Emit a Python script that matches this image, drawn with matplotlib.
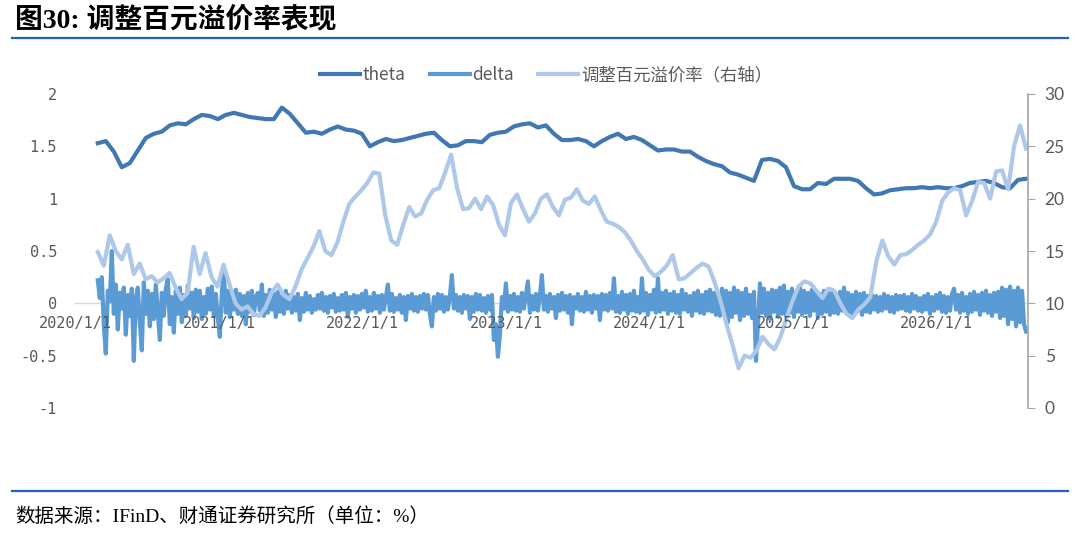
import numpy as np
import pandas as pd
import matplotlib
matplotlib.use('Agg')
import matplotlib.pyplot as plt
from matplotlib.lines import Line2D

# series span (first / last trading day shown)
start_date = '2020-02-28'
end_date = '2026-08-16'

# theta (left axis)
theta = [1.53, 1.55, 1.45, 1.30, 1.34, 1.46, 1.58, 1.62, 1.64, 1.70,
         1.72, 1.71, 1.76, 1.80, 1.79, 1.76, 1.80, 1.82, 1.80, 1.78,
         1.77, 1.76, 1.76, 1.87, 1.81, 1.72, 1.63, 1.64, 1.62, 1.66,
         1.69, 1.66, 1.65, 1.62, 1.50, 1.54, 1.57, 1.55, 1.56, 1.58,
         1.60, 1.62, 1.63, 1.56, 1.50, 1.51, 1.55, 1.55, 1.54, 1.61,
         1.63, 1.64, 1.69, 1.71, 1.72, 1.68, 1.70, 1.62, 1.56, 1.56,
         1.57, 1.55, 1.50, 1.55, 1.59, 1.62, 1.57, 1.59, 1.56, 1.51,
         1.46, 1.47, 1.47, 1.45, 1.45, 1.40, 1.36, 1.33, 1.31, 1.25,
         1.23, 1.20, 1.17, 1.37, 1.38, 1.36, 1.30, 1.12, 1.09, 1.09,
         1.15, 1.14, 1.19, 1.19, 1.19, 1.17, 1.10, 1.04, 1.05, 1.08,
         1.09, 1.10, 1.10, 1.11, 1.10, 1.11, 1.10, 1.10, 1.12, 1.15,
         1.16, 1.17, 1.15, 1.11, 1.10, 1.18, 1.19]

# delta (left axis)
delta = [0.22, 0.05, 0.25, -0.20, -0.48, 0.12, 0.02, 0.50, -0.10, 0.18,
         -0.25, 0.10, -0.05, 0.15, -0.30, 0.08, -0.12, 0.14, -0.55, 0.05,
         0.15, -0.18, -0.45, 0.20, -0.10, 0.12, -0.22, 0.09, -0.15, 0.18,
         -0.08, -0.35, 0.10, -0.12, 0.14, 0.23, -0.20, 0.06, -0.28, 0.12,
         -0.10, 0.15, -0.18, 0.08, -0.12, 0.17, -0.05, 0.10, -0.14, 0.13,
         -0.08, 0.12, -0.15, 0.06, -0.10, 0.14, -0.06, 0.16, -0.12, 0.09,
         -0.14, -0.32, 0.10, 0.31, -0.09, 0.12, -0.13, 0.08, -0.06, 0.13,
         -0.10, 0.09, -0.12, 0.07, -0.20, 0.10, -0.08, 0.12, -0.11, 0.06,
         0.10, -0.07, 0.18, -0.12, 0.08, -0.09, 0.13, -0.06, 0.09, -0.13,
         0.11, -0.08, 0.07, -0.10, 0.12, -0.05, 0.08, -0.09, 0.06, -0.07,
         0.09, -0.16, 0.05, -0.08, 0.10, -0.06, 0.07, -0.09, 0.04, -0.06,
         0.08, -0.05, 0.10, -0.07, 0.06, -0.09, 0.07, -0.04, 0.09, -0.08,
         0.05, -0.07, 0.08, -0.06, 0.10, -0.13, 0.06, -0.05, 0.08, -0.09,
         0.07, -0.06, 0.09, -0.04, 0.12, -0.08, 0.06, -0.07, 0.10, -0.05,
         0.07, -0.09, 0.08, -0.06, 0.06, 0.18, -0.07, 0.09, -0.08, 0.05,
         -0.06, 0.08, -0.09, 0.06, -0.16, 0.07, -0.05, 0.09, -0.07, 0.06,
         -0.08, 0.07, -0.05, 0.09, -0.06, 0.08, -0.10, -0.22, 0.06, -0.07,
         0.09, -0.05, 0.08, -0.08, 0.06, -0.06, 0.07, 0.27, -0.05, 0.08,
         -0.07, 0.06, -0.09, 0.08, -0.05, 0.07, -0.15, 0.06, -0.08, 0.09,
         -0.06, 0.08, -0.07, 0.05, -0.09, 0.07, -0.06, 0.08, -0.35, -0.20,
         -0.51, -0.30, 0.06, -0.05, 0.19, -0.08, 0.07, -0.06, 0.09, -0.07,
         0.06, -0.08, 0.10, -0.05, 0.08, 0.21, -0.09, 0.07, -0.06, 0.09,
         -0.07, 0.08, 0.27, -0.06, 0.07, -0.08, 0.09, -0.05, 0.06, -0.14,
         0.08, -0.07, 0.10, -0.06, 0.07, -0.09, 0.08, -0.20, 0.06, -0.05,
         0.09, -0.07, 0.06, -0.08, 0.11, -0.06, 0.07, -0.09, 0.08, -0.05,
         0.07, -0.16, 0.09, -0.06, 0.08, -0.07, 0.10, -0.05, 0.24, -0.08,
         0.07, -0.09, 0.11, -0.06, 0.08, -0.10, 0.09, -0.07, 0.12, -0.08,
         0.06, -0.09, 0.24, -0.07, 0.10, -0.11, 0.08, -0.06, 0.13, -0.09,
         0.24, -0.08, 0.10, -0.06, 0.12, -0.10, 0.09, -0.07, 0.11, -0.09,
         0.08, -0.10, 0.13, -0.06, 0.09, -0.08, 0.07, -0.12, 0.10, -0.07,
         0.12, -0.09, 0.08, -0.10, 0.11, -0.07, 0.13, -0.08, 0.10, -0.11,
         0.09, -0.12, 0.14, -0.10, 0.12, -0.18, 0.10, -0.13, 0.15, -0.09,
         0.12, -0.16, 0.10, -0.12, 0.14, -0.10, 0.08, -0.14, 0.11, -0.55,
         -0.20, 0.19, -0.09, 0.14, -0.12, 0.10, -0.15, 0.13, -0.08, 0.12,
         -0.13, 0.15, -0.10, 0.17, -0.12, 0.11, -0.09, 0.14, -0.13, 0.10,
         -0.08, 0.16, -0.11, 0.12, -0.09, 0.10, -0.12, 0.13, -0.07, 0.11,
         -0.14, 0.09, -0.10, 0.12, -0.08, 0.10, -0.11, 0.13, -0.09, 0.08,
         -0.10, 0.11, -0.07, 0.15, -0.09, 0.10, -0.12, 0.08, -0.10, 0.11,
         -0.07, 0.09, -0.11, 0.10, -0.08, 0.07, -0.09, 0.08, -0.06, 0.07,
         -0.08, 0.06, -0.07, 0.09, -0.05, 0.07, -0.08, 0.06, -0.09, 0.08,
         -0.06, 0.07, -0.05, 0.08, -0.07, 0.06, -0.08, 0.09, -0.05, 0.07,
         -0.07, 0.05, -0.08, 0.07, -0.06, 0.09, -0.10, 0.06, -0.07, 0.08,
         -0.05, 0.10, -0.08, 0.07, -0.09, 0.06, -0.07, 0.09, 0.14, -0.06,
         0.08, -0.09, 0.10, -0.07, 0.06, -0.10, 0.09, -0.08, 0.11, -0.06,
         0.08, -0.11, 0.10, -0.07, 0.12, -0.09, 0.08, -0.12, 0.10, -0.08,
         0.11, -0.14, 0.15, -0.12, 0.13, -0.20, 0.16, -0.15, 0.12, -0.22,
         0.15, -0.18, 0.12, -0.20, -0.27]

# adjusted premium per 100 yuan, % (right axis)
premium = [14.9, 13.6, 16.5, 15.0, 14.2, 15.6, 12.8, 13.8, 12.3, 12.6,
           12.0, 12.4, 12.9, 11.5, 10.4, 11.0, 15.4, 12.8, 14.8, 12.5,
           11.6, 13.7, 11.8, 10.0, 9.4, 9.7, 9.0, 8.8, 9.6, 11.0,
           11.8, 10.8, 10.4, 11.6, 13.2, 14.3, 15.4, 16.9, 15.0, 14.6,
           15.8, 17.8, 19.5, 20.2, 20.8, 21.5, 22.5, 22.4, 18.4, 16.0,
           15.6, 17.5, 19.2, 18.3, 18.6, 19.9, 20.8, 21.0, 22.5, 24.2,
           21.0, 19.0, 19.1, 20.0, 19.0, 20.2, 19.4, 17.5, 16.5, 19.6,
           20.4, 19.0, 17.8, 18.6, 20.0, 20.4, 19.2, 18.4, 19.9, 20.1,
           20.9, 19.8, 19.5, 20.2, 18.9, 17.8, 17.6, 17.3, 16.8, 16.0,
           15.0, 14.2, 13.2, 12.6, 13.0, 13.6, 14.6, 12.3, 12.4, 12.9,
           13.4, 13.8, 13.5, 12.0, 10.2, 8.0, 6.0, 3.8, 5.0, 4.8,
           5.5, 6.8, 6.1, 5.6, 6.8, 8.6, 10.2, 11.6, 12.1, 11.9,
           11.2, 10.5, 11.4, 11.2, 10.0, 9.0, 8.6, 9.4, 9.9, 10.6,
           14.0, 16.0, 14.5, 13.7, 14.6, 14.7, 15.1, 15.6, 16.0, 16.6,
           17.8, 19.8, 20.6, 21.0, 20.8, 18.4, 19.8, 21.6, 21.5, 20.0,
           22.6, 22.7, 20.9, 25.0, 27.0, 24.8]

tick_dates = ['2020-01-01', '2021-01-01', '2022-01-01', '2023-01-01',
              '2024-01-01', '2025-01-01', '2026-01-01']
tick_labels = ['2020/1/1', '2021/1/1', '2022/1/1', '2023/1/1',
               '2024/1/1', '2025/1/1', '2026/1/1']
left_ticks = [2, 1.5, 1, 0.5, 0, -0.5, -1]
right_ticks = [0, 5, 10, 15, 20, 25, 30]

theta_x = pd.date_range(start_date, end_date, periods=len(theta))
delta_x = pd.date_range(start_date, end_date, periods=len(delta))
premium_x = pd.date_range(start_date, end_date, periods=len(premium))

cjk = ['Noto Sans CJK SC', 'DejaVu Sans']
mono = ['DejaVu Sans Mono', 'Noto Sans CJK SC']
grey = '#595959'

fig = plt.figure(figsize=(10.8, 5.37), dpi=100)
ax = fig.add_axes([75 / 1080, 1 - 408 / 537, 953 / 1080, 314 / 537])
ax2 = ax.twinx()

ax.axhline(0, color='#d9d9d9', lw=1, zorder=1)
l1, = ax.plot(theta_x, theta, color='#4178B2', lw=3.0, label='theta', zorder=3)
l2, = ax.plot(delta_x, delta, color='#5B9BD5', lw=3.0, label='delta', zorder=2)
l3, = ax2.plot(premium_x, premium, color='#ADC8E8', lw=3.0,
               label='调整百元溢价率（右轴）')

ax.set_xlim(pd.Timestamp('2020-01-01'), pd.Timestamp('2026-08-21'))
ax.set_ylim(-1, 2)
ax2.set_ylim(0, 30)

ax.set_yticks(left_ticks)
ax.set_yticklabels(['%g' % v for v in left_ticks])
ax.tick_params(axis='y', length=0, pad=13, labelcolor=grey, labelsize=11)
for t in ax.get_yticklabels():
    t.set_fontfamily(mono)
ax.tick_params(axis='x', bottom=False, labelbottom=False)

# x labels live on the twin so they sit above all lines
ax2.xaxis.set_visible(True)
ax2.xaxis.set_zorder(5)
ax2.spines['bottom'].set_position(('data', 10))
ax2.set_xticks(pd.to_datetime(tick_dates))
ax2.set_xticklabels(tick_labels)
ax2.tick_params(axis='x', length=0, pad=9, labelcolor=grey, labelsize=11)
for t in ax2.get_xticklabels():
    t.set_fontfamily(mono)

ax2.set_yticks(right_ticks)
ax2.tick_params(axis='y', direction='out', length=5, color='#a6a6a6',
                pad=7, labelcolor=grey, labelsize=12.5)
for t in ax2.get_yticklabels():
    t.set_fontfamily('Lato')

for a in (ax, ax2):
    for s in ('top', 'bottom', 'left'):
        a.spines[s].set_visible(False)
ax.spines['right'].set_visible(False)
ax2.spines['right'].set_color('#a6a6a6')
ax2.spines['right'].set_linewidth(1.2)

fig.legend(handles=[l1, l2, l3], loc='center', ncol=3,
           bbox_to_anchor=(546 / 1080, 1 - 75 / 537), frameon=False,
           prop={'family': cjk, 'size': 12.5}, labelcolor=grey,
           handlelength=2.3, handletextpad=0.15, columnspacing=1.4)

fig.text(15 / 1080, 1 - 20 / 537, '图30: 调整百元溢价率表现', fontsize=20,
         fontweight='bold', family=['Liberation Serif', 'Noto Sans CJK SC'],
         va='center', ha='left')
fig.text(15 / 1080, 1 - 517 / 537, '数据来源：IFinD、财通证券研究所（单位：%）',
         fontsize=14, family=['Liberation Serif', 'Noto Sans CJK SC'],
         va='center', ha='left')

for yy in (38, 491):
    fig.add_artist(Line2D([12 / 1080, 1068 / 1080], [1 - yy / 537] * 2,
                          transform=fig.transFigure, color='#1F62B8', lw=1.6))

fig.savefig('out.png', dpi=100)
